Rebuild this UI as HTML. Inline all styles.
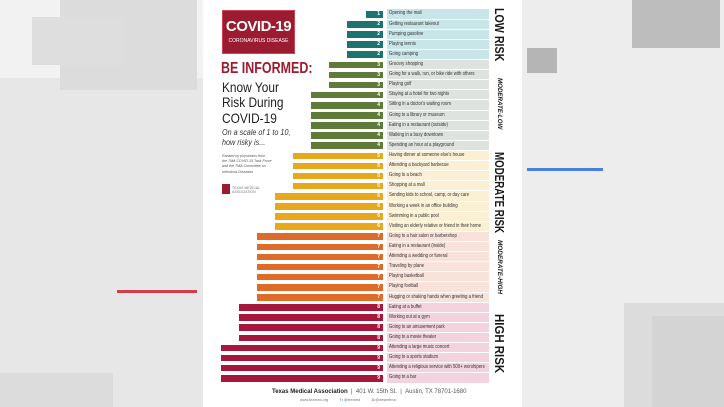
<!DOCTYPE html>
<html><head><meta charset="utf-8"><style>
*{margin:0;padding:0;box-sizing:border-box}
body{width:724px;height:407px;overflow:hidden;position:relative;background:#e7e7e7;font-family:"Liberation Sans",sans-serif}
.a{position:absolute}
.r{position:absolute;left:0;width:724px;height:7px}
.r b{position:absolute;right:341px;top:0;height:6.5px;color:#fff;font-size:5px;line-height:6.5px;text-align:right;padding-right:3px;font-weight:bold}
.r i{position:absolute;left:387px;width:102px;top:-1.6px;height:9.2px;font-style:normal;font-size:5.4px;line-height:9.2px;padding-left:2px;color:#333;white-space:nowrap;overflow:hidden}
.r i span{display:inline-block;transform:scaleX(.8);transform-origin:0 50%}
.c1{background:#1c7470}.c3{background:#5f7b3a}.c5{background:#e8a81c}.c7{background:#df6b2a}.c8{background:#a5183b}
.l1{background:#c8e5e7}.l3{background:#dfe3df}.l5{background:#fbefd4}.l7{background:#f8e2da}.l8{background:#f3d3de}
.rk{position:absolute;left:500px;white-space:nowrap;font-weight:bold;color:#1a1a1a;transform-origin:0 0}
</style></head><body>
<div class="a" style="left:0;top:0;width:203px;height:78px;background:#f2f2f2"></div>
<div class="a" style="left:60px;top:0;width:137px;height:90px;background:#dcdcdc"></div>
<div class="a" style="left:32px;top:17px;width:92px;height:48px;background:#dedede"></div>
<div class="a" style="left:117px;top:290px;width:80px;height:3px;background:#d93a4a"></div>
<div class="a" style="left:0;top:373px;width:113px;height:34px;background:#dcdcdc"></div>
<div class="a" style="left:522px;top:0;width:202px;height:407px;background:#ededed"></div>
<div class="a" style="left:632px;top:0;width:88px;height:48px;background:#bdbdbd"></div>
<div class="a" style="left:527px;top:48px;width:30px;height:25px;background:#b5b5b5"></div>
<div class="a" style="left:527px;top:168px;width:76px;height:3px;background:#4a7fe0"></div>
<div class="a" style="left:624px;top:303px;width:100px;height:104px;background:#dcdcdc"></div>
<div class="a" style="left:652px;top:316px;width:72px;height:91px;background:#d4d4d4"></div>
<div class="a" style="left:203px;top:0;width:319px;height:407px;background:#fff"></div>

<div class="a" style="left:222px;top:10px;width:73px;height:44px;background:#9b1b30;border:1px solid #c45;color:#fff;text-align:center">
<div style="font-size:15px;font-weight:bold;margin-top:7px;letter-spacing:-0.5px">COVID-19</div>
<div style="font-size:5px;margin-top:3px">CORONAVIRUS DISEASE</div></div>
<div class="a" style="left:221px;top:60px;font-size:16px;font-weight:bold;color:#9b1b30;transform:scaleX(0.78);transform-origin:0 0;white-space:nowrap">BE INFORMED:</div>
<div class="a" style="left:222px;top:80px;font-size:14px;line-height:15.3px;color:#222;transform:scaleX(0.85);transform-origin:0 0;white-space:nowrap">Know Your<br>Risk During<br>COVID-19</div>
<div class="a" style="left:222px;top:128px;font-size:8px;line-height:10px;color:#333;font-style:italic;transform:scaleX(0.9);transform-origin:0 0;white-space:nowrap">On a scale of 1 to 10,<br>how risky is...</div>
<div class="a" style="left:222px;top:154px;font-size:3.6px;line-height:5.2px;color:#555;font-style:italic;white-space:nowrap">Ranked by physicians from<br>the TMA COVID-19 Task Force<br>and the TMA Committee on<br>Infectious Diseases</div>
<div class="a" style="left:222px;top:184px;width:8px;height:10px;background:#9b1b30"></div>
<div class="a" style="left:232px;top:186px;font-size:3.5px;line-height:4px;color:#777">TEXAS MEDICAL<br>ASSOCIATION</div>

<div class="r" style="top:11px"><b class="c1" style="width:17px">1</b><i class="l1"><span>Opening the mail</span></i></div>
<div class="r" style="top:21.1px"><b class="c1" style="width:36px">2</b><i class="l1"><span>Getting restaurant takeout</span></i></div>
<div class="r" style="top:31.2px"><b class="c1" style="width:36px">2</b><i class="l1"><span>Pumping gasoline</span></i></div>
<div class="r" style="top:41.3px"><b class="c1" style="width:36px">2</b><i class="l1"><span>Playing tennis</span></i></div>
<div class="r" style="top:51.4px"><b class="c1" style="width:36px">2</b><i class="l1"><span>Going camping</span></i></div>
<div class="r" style="top:61.6px"><b class="c3" style="width:54px">3</b><i class="l3"><span>Grocery shopping</span></i></div>
<div class="r" style="top:71.7px"><b class="c3" style="width:54px">3</b><i class="l3"><span>Going for a walk, run, or bike ride with others</span></i></div>
<div class="r" style="top:81.8px"><b class="c3" style="width:54px">3</b><i class="l3"><span>Playing golf</span></i></div>
<div class="r" style="top:91.9px"><b class="c3" style="width:72px">4</b><i class="l3"><span>Staying at a hotel for two nights</span></i></div>
<div class="r" style="top:102px"><b class="c3" style="width:72px">4</b><i class="l3"><span>Sitting in a doctor's waiting room</span></i></div>
<div class="r" style="top:112.1px"><b class="c3" style="width:72px">4</b><i class="l3"><span>Going to a library or museum</span></i></div>
<div class="r" style="top:122.2px"><b class="c3" style="width:72px">4</b><i class="l3"><span>Eating in a restaurant (outside)</span></i></div>
<div class="r" style="top:132.3px"><b class="c3" style="width:72px">4</b><i class="l3"><span>Walking in a busy downtown</span></i></div>
<div class="r" style="top:142.4px"><b class="c3" style="width:72px">4</b><i class="l3"><span>Spending an hour at a playground</span></i></div>
<div class="r" style="top:152.5px"><b class="c5" style="width:90px">5</b><i class="l5"><span>Having dinner at someone else's house</span></i></div>
<div class="r" style="top:162.7px"><b class="c5" style="width:90px">5</b><i class="l5"><span>Attending a backyard barbecue</span></i></div>
<div class="r" style="top:172.8px"><b class="c5" style="width:90px">5</b><i class="l5"><span>Going to a beach</span></i></div>
<div class="r" style="top:182.9px"><b class="c5" style="width:90px">5</b><i class="l5"><span>Shopping at a mall</span></i></div>
<div class="r" style="top:193px"><b class="c5" style="width:108px">6</b><i class="l5"><span>Sending kids to school, camp, or day care</span></i></div>
<div class="r" style="top:203.1px"><b class="c5" style="width:108px">6</b><i class="l5"><span>Working a week in an office building</span></i></div>
<div class="r" style="top:213.2px"><b class="c5" style="width:108px">6</b><i class="l5"><span>Swimming in a public pool</span></i></div>
<div class="r" style="top:223.3px"><b class="c5" style="width:108px">6</b><i class="l5"><span>Visiting an elderly relative or friend in their home</span></i></div>
<div class="r" style="top:233.4px"><b class="c7" style="width:126px">7</b><i class="l7"><span>Going to a hair salon or barbershop</span></i></div>
<div class="r" style="top:243.5px"><b class="c7" style="width:126px">7</b><i class="l7"><span>Eating in a restaurant (inside)</span></i></div>
<div class="r" style="top:253.6px"><b class="c7" style="width:126px">7</b><i class="l7"><span>Attending a wedding or funeral</span></i></div>
<div class="r" style="top:263.8px"><b class="c7" style="width:126px">7</b><i class="l7"><span>Traveling by plane</span></i></div>
<div class="r" style="top:273.9px"><b class="c7" style="width:126px">7</b><i class="l7"><span>Playing basketball</span></i></div>
<div class="r" style="top:284px"><b class="c7" style="width:126px">7</b><i class="l7"><span>Playing football</span></i></div>
<div class="r" style="top:294.1px"><b class="c7" style="width:126px">7</b><i class="l7"><span>Hugging or shaking hands when greeting a friend</span></i></div>
<div class="r" style="top:304.2px"><b class="c8" style="width:144px">8</b><i class="l8"><span>Eating at a buffet</span></i></div>
<div class="r" style="top:314.3px"><b class="c8" style="width:144px">8</b><i class="l8"><span>Working out at a gym</span></i></div>
<div class="r" style="top:324.4px"><b class="c8" style="width:144px">8</b><i class="l8"><span>Going to an amusement park</span></i></div>
<div class="r" style="top:334.5px"><b class="c8" style="width:144px">8</b><i class="l8"><span>Going to a movie theater</span></i></div>
<div class="r" style="top:344.6px"><b class="c8" style="width:162px">9</b><i class="l8"><span>Attending a large music concert</span></i></div>
<div class="r" style="top:354.7px"><b class="c8" style="width:162px">9</b><i class="l8"><span>Going to a sports stadium</span></i></div>
<div class="r" style="top:364.9px"><b class="c8" style="width:162px">9</b><i class="l8"><span>Attending a religious service with 500+ worshipers</span></i></div>
<div class="r" style="top:375px"><b class="c8" style="width:162px">9</b><i class="l8"><span>Going to a bar</span></i></div>

<div class="rk" style="top:8px;left:507px;font-size:13px;transform:rotate(90deg) scaleX(0.82)">LOW RISK</div>
<div class="rk" style="top:78px;left:503px;font-size:6.5px;font-style:italic;transform:rotate(90deg) scaleX(0.95)">MODERATE-LOW</div>
<div class="rk" style="top:152px;left:507px;font-size:13px;transform:rotate(90deg) scaleX(0.75)">MODERATE RISK</div>
<div class="rk" style="top:240px;left:503px;font-size:6.5px;font-style:italic;transform:rotate(90deg) scaleX(0.98)">MODERATE-HIGH</div>
<div class="rk" style="top:314px;left:507px;font-size:13px;transform:rotate(90deg) scaleX(0.88)">HIGH RISK</div>

<div class="a" style="left:272px;top:389px;font-size:6px;color:#555;white-space:nowrap"><b style="color:#222">Texas Medical Association</b> &nbsp;| &nbsp;401 W. 15th St. &nbsp;| &nbsp;Austin, TX 78701-1680</div>
<div class="a" style="left:300px;top:398px;font-size:3.8px;color:#777;white-space:nowrap">www.texmed.org &nbsp; &nbsp; &nbsp; &nbsp; &nbsp; <span style="color:#3b5998">f</span> <span style="color:#1da1f2">t</span> @texmed &nbsp; &nbsp; &nbsp; &nbsp; &nbsp; <span style="color:#c13584">◘</span> @wearetma</div>
</body></html>
